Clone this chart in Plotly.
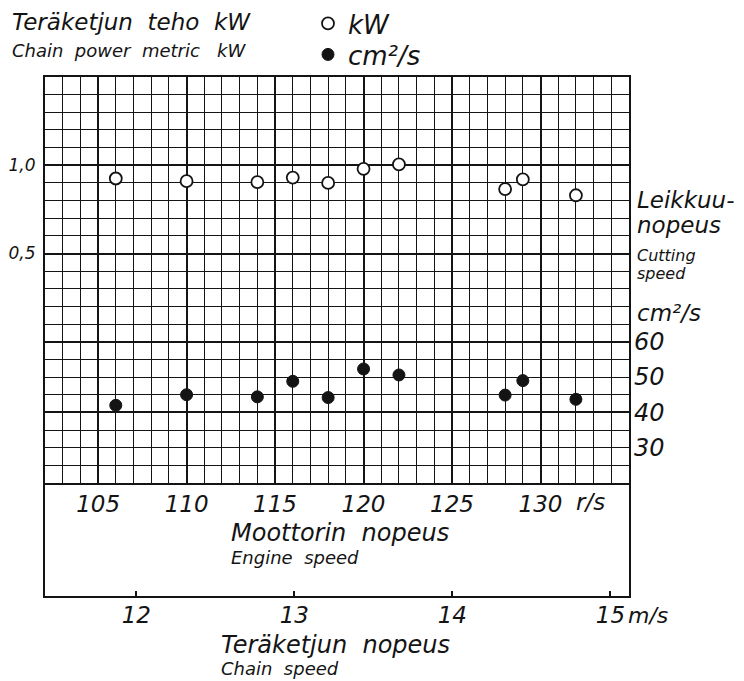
import plotly.graph_objects as go

# ---------------- data ----------------
engine_speed = [106, 110, 114, 116, 118, 120, 122, 128, 129, 132]          # r/s
chain_power_kw = [0.925, 0.91, 0.905, 0.93, 0.90, 0.98, 1.005, 0.865, 0.92, 0.83]  # kW
cutting_speed = [42.0, 45.0, 44.4, 48.8, 44.2, 52.3, 50.6, 44.9, 49.0, 43.7]       # cm2/s

rs_ticks = [105, 110, 115, 120, 125, 130]
rs_labels = ["105", "110", "115", "120", "125", "130"]
ms_ticks = [12, 13, 14, 15]
ms_labels = ["12", "13", "14", "15"]
kw_ticks = [-0.4, 0.0, 0.5, 1.0]
kw_labels = ["", "", "0,5", "1,0"]
cs_ticks = [30, 40, 50, 60]
cs_labels = ["30", "40", "50", "60"]

RS_PER_MS = 8.93          # engine r/s per chain m/s
X_RANGE = [102, 135]
KW_RANGE = [-0.8, 1.5]
CS_RANGE = [20, 135]

# ---------------- layout geometry (window pixels) ----------------
WIN_W, WIN_H = 744, 681
OFF = 8                          # default page margin around the figure
W, H = WIN_W - OFF, WIN_H - OFF
L, R, T, B = 45, 629, 77, 596    # plot area, window pixels
GRID_BOTTOM = 483
FONT = "DejaVu Sans"
INK = "#141414"


def fx(x):
    return (x - L) / (R - L)


def fy(y):
    return (B - y) / (B - T)


D = fy(GRID_BOTTOM)

fig = go.Figure()
fig.add_trace(go.Scatter(
    x=engine_speed, y=chain_power_kw, mode="markers", name="kW",
    marker=dict(symbol="circle", size=12, color="white",
                line=dict(color=INK, width=1.8)),
    xaxis="x", yaxis="y", legend="legend"))
fig.add_trace(go.Scatter(
    x=engine_speed, y=cutting_speed, mode="markers", name="cm²/s",
    marker=dict(symbol="circle", size=12, color=INK,
                line=dict(color=INK, width=1)),
    xaxis="x", yaxis="y3", legend="legend2"))
fig.add_trace(go.Scatter(x=[], y=[], xaxis="x2", yaxis="y2",
                         showlegend=False, hoverinfo="skip"))

tickfont = dict(family=FONT, size=23, color=INK, style="italic")
legend_common = dict(xanchor="left", yanchor="top", bgcolor="rgba(0,0,0,0)",
                     font=dict(family=FONT, size=26, color=INK, style="italic"),
                     itemwidth=30)

fig.update_layout(
    width=W, height=H,
    margin=dict(l=L - OFF, r=WIN_W - R, t=T - OFF, b=WIN_H - B,
                pad=0, autoexpand=False),
    paper_bgcolor="white", plot_bgcolor="white",
    font=dict(family=FONT, color=INK, style="italic"),
    showlegend=True,
    legend=dict(x=fx(308), y=fy(0), **legend_common),
    legend2=dict(x=fx(308), y=fy(31), **legend_common),
    xaxis=dict(domain=[0, 1], anchor="y", range=X_RANGE,
               tickmode="array", tickvals=rs_ticks, ticktext=rs_labels,
               showgrid=True, gridcolor=INK, gridwidth=2,
               minor=dict(dtick=1, tick0=X_RANGE[0], showgrid=True,
                          gridcolor=INK, gridwidth=1.2, ticks=""),
               showline=True, mirror=True, linecolor=INK, linewidth=2,
               ticks="", zeroline=False, tickfont=tickfont,
               ticklabelstandoff=-1, automargin=False),
    yaxis=dict(domain=[D, 1], anchor="x", range=KW_RANGE,
               tickmode="array", tickvals=kw_ticks, ticktext=kw_labels,
               showgrid=True, gridcolor=INK, gridwidth=2,
               minor=dict(dtick=0.1, tick0=0, showgrid=True,
                          gridcolor=INK, gridwidth=1.2, ticks=""),
               showline=True, mirror=True, linecolor=INK, linewidth=2,
               ticks="", zeroline=False,
               tickfont=dict(family=FONT, size=17, color=INK, style="italic"),
               ticklabelstandoff=4, automargin=False),
    yaxis3=dict(overlaying="y", side="right", anchor="x", range=CS_RANGE,
                tickmode="array", tickvals=cs_ticks, ticktext=cs_labels,
                showgrid=False, zeroline=False, showline=False, ticks="",
                tickfont=dict(family=FONT, size=24, color=INK, style="italic"),
                ticklabelstandoff=4, automargin=False),
    xaxis2=dict(domain=[0, 1], anchor="y2",
                range=[X_RANGE[0] / RS_PER_MS, X_RANGE[1] / RS_PER_MS],
                tickmode="array", tickvals=ms_ticks, ticktext=ms_labels,
                ticks="inside", ticklen=5, tickwidth=1.5, tickcolor=INK,
                showline=True, linecolor=INK, linewidth=2, mirror=False,
                showgrid=False, zeroline=False, tickfont=tickfont,
                ticklabelstandoff=-3, automargin=False),
    yaxis2=dict(domain=[0, D], anchor="x2", range=[0, 1],
                showline=True, mirror=True, linecolor=INK, linewidth=1.5,
                showgrid=False, zeroline=False, showticklabels=False,
                ticks="", automargin=False),
)


def note(text, x, y, size, xanchor="left"):
    fig.add_annotation(text=text, x=fx(x), y=fy(y), xref="paper", yref="paper",
                       xanchor=xanchor, yanchor="middle", showarrow=False,
                       font=dict(family=FONT, size=size, color=INK, style="italic"))


note("Teräketjun  teho  kW", 10, 22, 23)
note("Chain  power  metric   kW", 10, 51, 18)
note("Leikkuu-", 635, 200, 23)
note("nopeus", 635, 225, 23)
note("Cutting", 635, 255, 16)
note("speed", 635, 273, 16)
note("cm²/s", 635, 313, 23)
note("r/s", 574, 502, 23)
note("Moottorin  nopeus", 229, 533, 24)
note("Engine  speed", 229, 557, 18)
note("m/s", 626, 615, 22)
note("Teräketjun  nopeus", 219, 645, 24)
note("Chain  speed", 219, 668, 18)

fig.write_html("out.html")
